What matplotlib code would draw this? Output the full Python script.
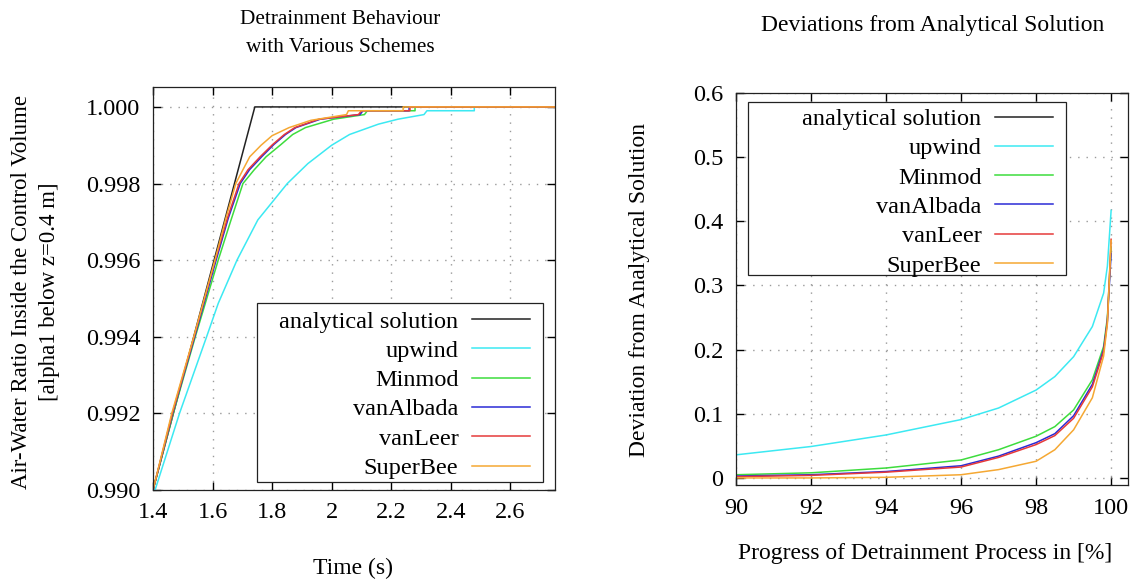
import matplotlib
matplotlib.use("Agg")
import matplotlib.pyplot as plt
from matplotlib.lines import Line2D
from matplotlib.patches import Rectangle
from matplotlib.ticker import FuncFormatter

plt.rcParams['font.family'] = ['Liberation Serif', 'DejaVu Serif']

# ---------------- data ----------------
series_names = ["analytical solution", "upwind", "Minmod", "vanAlbada", "vanLeer", "SuperBee"]
series_colors = ["#222222", "#3ce9f2", "#3ddc3d", "#2b2bd6", "#e63a3a", "#f5a833"]

# Left panel: time (s) vs air-water ratio
t_analytical = [1.40, 1.742, 2.75]
a_analytical = [0.9900, 1.0000, 1.0000]

t_upwind = [1.407, 1.489, 1.58, 1.619, 1.682, 1.752, 1.851, 1.92, 2.00, 2.06, 2.157, 2.223, 2.31, 2.32, 2.479, 2.479, 2.75]
a_upwind = [0.9900, 0.9920, 0.9940, 0.99487, 0.9960, 0.99705, 0.9980, 0.99852, 0.9990, 0.99928, 0.99955, 0.99968, 0.9998, 0.9999, 0.9999, 1.0000, 1.0000]

t_minmod = [1.40, 1.468, 1.542, 1.619, 1.66, 1.702, 1.74, 1.78, 1.830, 1.869, 1.912, 2.007, 2.11, 2.12, 2.28, 2.28, 2.75]
a_minmod = [0.9900, 0.9920, 0.9940, 0.9960, 0.9970, 0.9980, 0.99836, 0.9987, 0.99902, 0.99928, 0.99946, 0.99968, 0.9998, 0.9999, 0.9999, 1.0000, 1.0000]

t_vanalbada = [1.40, 1.466, 1.540, 1.612, 1.653, 1.693, 1.724, 1.765, 1.806, 1.845, 1.880, 1.962, 2.095, 2.105, 2.26, 2.26, 2.75]
a_vanalbada = [0.9900, 0.9920, 0.9940, 0.9960, 0.9971, 0.9980, 0.99836, 0.9987, 0.99902, 0.99928, 0.99946, 0.99968, 0.9998, 0.9999, 0.9999, 1.0000, 1.0000]

t_vanleer = [1.40, 1.465, 1.538, 1.609, 1.65, 1.689, 1.719, 1.76, 1.802, 1.841, 1.876, 1.957, 2.09, 2.10, 2.263, 2.263, 2.75]
a_vanleer = [0.9900, 0.9920, 0.9940, 0.9960, 0.9971, 0.9980, 0.99836, 0.9987, 0.99902, 0.99928, 0.99946, 0.99968, 0.9998, 0.9999, 0.9999, 1.0000, 1.0000]

t_superbee = [1.40, 1.463, 1.537, 1.608, 1.645, 1.678, 1.702, 1.725, 1.763, 1.80, 1.857, 1.93, 2.05, 2.056, 2.24, 2.24, 2.75]
a_superbee = [0.9900, 0.9920, 0.9940, 0.9960, 0.9971, 0.9980, 0.99836, 0.9987, 0.9990, 0.99925, 0.99946, 0.99965, 0.9998, 0.9999, 0.9999, 1.0000, 1.0000]

# Right panel: progress (%) vs deviation
progress = [90, 92, 94, 96, 97, 98, 98.5, 99, 99.5, 99.8, 99.9, 100]
dev_upwind    = [0.036, 0.049, 0.067, 0.091, 0.109, 0.137, 0.158, 0.189, 0.236, 0.288, 0.330, 0.417]
dev_minmod    = [0.005, 0.008, 0.0155, 0.028, 0.044, 0.065, 0.080, 0.106, 0.153, 0.205, 0.250, 0.360]
dev_vanalbada = [0.003, 0.005, 0.010, 0.019, 0.034, 0.055, 0.069, 0.097, 0.146, 0.200, 0.245, 0.350]
dev_vanleer   = [0.002, 0.004, 0.009, 0.017, 0.032, 0.052, 0.066, 0.093, 0.142, 0.197, 0.243, 0.372]
dev_superbee  = [0.000, 0.000, 0.001, 0.005, 0.013, 0.026, 0.044, 0.075, 0.125, 0.190, 0.240, 0.370]

# ---------------- figure ----------------
W, H = 1133, 581
fig = plt.figure(figsize=(W / 100, H / 100), dpi=100)

def px_axes(x0, y0, x1, y1):
    return fig.add_axes([x0 / W, 1 - y1 / H, (x1 - x0) / W, (y1 - y0) / H])

ax1 = px_axes(153, 87, 555, 490)
ax2 = px_axes(736, 93, 1128, 485)

lw = 1.1
left_sets = [(t_analytical, a_analytical), (t_upwind, a_upwind), (t_minmod, a_minmod),
             (t_vanalbada, a_vanalbada), (t_vanleer, a_vanleer), (t_superbee, a_superbee)]
for (tx, ay), name, col in zip(left_sets, series_names, series_colors):
    ax1.plot(tx, ay, color=col, lw=lw, label=name)

right_sets = [dev_upwind, dev_minmod, dev_vanalbada, dev_vanleer, dev_superbee]
handles2 = [Line2D([], [], color=series_colors[0], lw=lw, label=series_names[0])]
for dv, name, col in zip(right_sets, series_names[1:], series_colors[1:]):
    ln, = ax2.plot(progress, dv, color=col, lw=lw, label=name)
    handles2.append(ln)

fs_tick = 17.5
for ax in (ax1, ax2):
    ax.grid(True, color="#9a9a9a", linestyle=(0, (1, 5)), linewidth=1.0)
    ax.tick_params(direction="in", top=True, right=True, length=6, width=1.0,
                   labelsize=fs_tick, pad=9)
    for sp in ax.spines.values():
        sp.set_linewidth(0.9)
        sp.set_color("#222222")

ax1.set_xlim(1.4, 2.75)
ax1.set_ylim(0.990, 1.00052)
ax1.set_xticks([1.4, 1.6, 1.8, 2.0, 2.2, 2.4, 2.6])
ax1.set_yticks([0.990, 0.992, 0.994, 0.996, 0.998, 1.000])
ax1.xaxis.set_major_formatter(FuncFormatter(lambda v, p: "%g" % round(v, 3)))
ax1.yaxis.set_major_formatter(FuncFormatter(lambda v, p: "%.3f" % v))

ax2.set_xlim(90, 100.45)
ax2.set_ylim(-0.011, 0.6)
ax2.set_xticks([90, 92, 94, 96, 98, 100])
ax2.set_yticks([0, 0.1, 0.2, 0.3, 0.4, 0.5, 0.6])
ax2.yaxis.set_major_formatter(FuncFormatter(lambda v, p: "%g" % round(v, 3)))

# gnuplot-style key: fixed box, right-aligned labels, sample line on the right
leg_kw = dict(markerfirst=False, frameon=False, fontsize=17.5, handlelength=2.4,
              handletextpad=0.55, labelspacing=0.30, borderaxespad=0, borderpad=0,
              loc="upper right")

def key_box(ax, x0, y0, x1, y1):
    ax.add_patch(Rectangle((x0 / W, 1 - y1 / H), (x1 - x0) / W, (y1 - y0) / H,
                           transform=fig.transFigure, facecolor="white", edgecolor="#222222",
                           linewidth=0.9, zorder=4.5, clip_on=False))

key_box(ax1, 257, 303, 543, 482)
l1 = ax1.legend(bbox_to_anchor=(530 / W, 1 - 310.5 / H), bbox_transform=fig.transFigure, **leg_kw)
key_box(ax2, 748, 102, 1066, 275)
l2 = ax2.legend(handles=handles2, bbox_to_anchor=(1053 / W, 1 - 108 / H), bbox_transform=fig.transFigure, **leg_kw)

# titles and axis labels
fig.text(340 / W, 1 - 20 / H, "Detrainment Behaviour", ha="center", va="center", fontsize=15.3)
fig.text(340 / W, 1 - 48 / H, "with Various Schemes", ha="center", va="center", fontsize=15.3)
fig.text(933 / W, 1 - 25 / H, "Deviations from Analytical Solution", ha="center", va="center", fontsize=17)

fig.text(353 / W, 1 - 568 / H, "Time (s)", ha="center", va="center", fontsize=17)
fig.text(925 / W, 1 - 553 / H, "Progress of Detrainment Process in [%]", ha="center", va="center", fontsize=17)

fig.text(22 / W, 1 - 292 / H, "Air-Water Ratio Inside the Control Volume", rotation=90,
         ha="center", va="center", fontsize=16.5)
fig.text(50 / W, 1 - 292 / H, "[alpha1 below z=0.4 m]", rotation=90,
         ha="center", va="center", fontsize=16.5)
fig.text(640 / W, 1 - 290 / H, "Deviation from Analytical Solution", rotation=90,
         ha="center", va="center", fontsize=17)

fig.savefig("out.png", dpi=100)
